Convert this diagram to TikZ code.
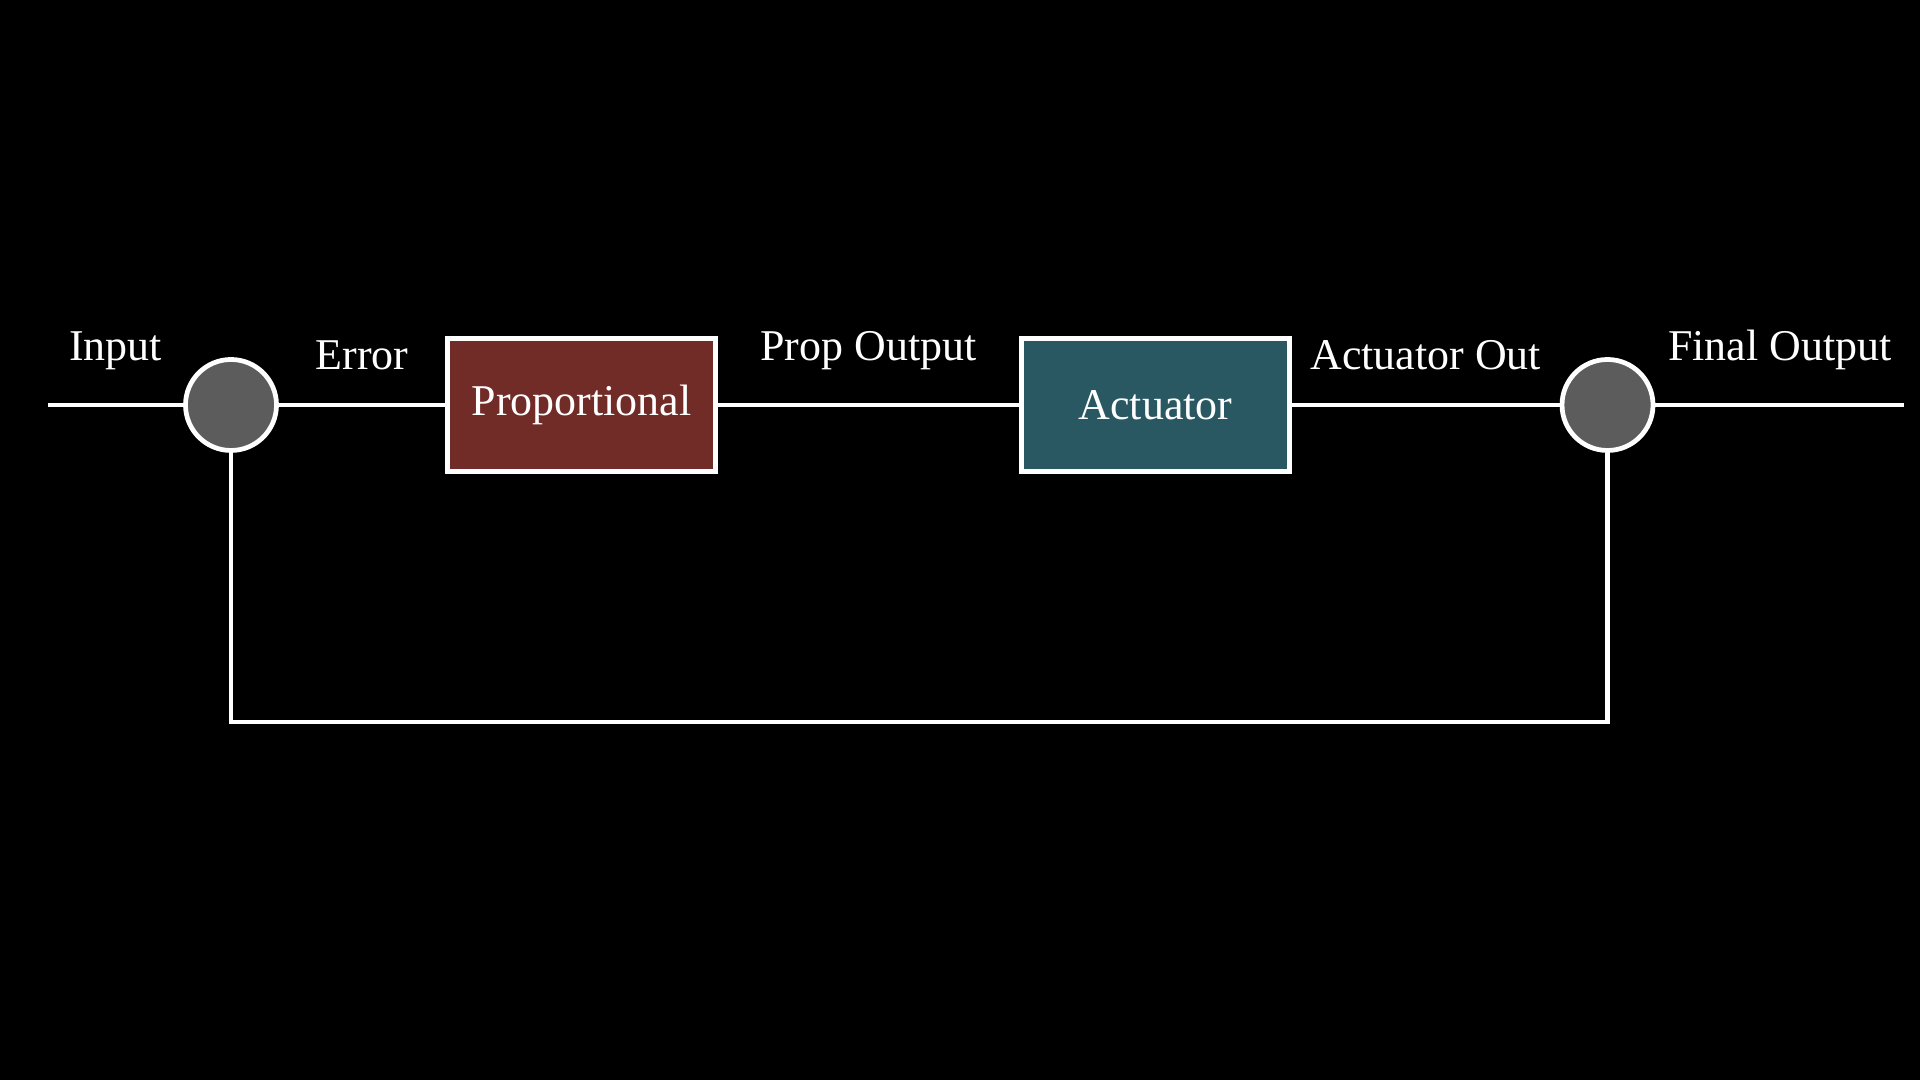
\documentclass[tikz,border=0pt]{standalone}
\usepackage{fontspec}
\setmainfont{Liberation Serif}
\definecolor{propred}{RGB}{114,44,40}
\definecolor{actteal}{RGB}{41,88,99}
\definecolor{sumgray}{RGB}{92,92,92}
\begin{document}
\begin{tikzpicture}[line width=1.35pt,white,font=\fontsize{12.5pt}{14pt}\selectfont,
 blk/.style={draw,minimum width=2.68cm,minimum height=1.33cm,inner sep=0pt},
 sum/.style={circle,draw,fill=sumgray,minimum size=0.91cm,inner sep=0pt},
 lbl/.style={midway,above=0.33cm,inner sep=0pt}]
 \fill[black] (0,0) rectangle (19.2,10.8); %背景
 \coordinate (in) at (0.48,6.75); %入力端
 \coordinate (out) at (19.04,6.75); %出力端
 \coordinate (fb) at (0,3.58); %フィードバックの高さ
 \node[sum] (s1) at (2.31,6.75) {}; %加算点1
 \node[blk,fill=propred] (prop) at (5.815,6.75) {Proportional}; %比例要素
 \node[blk,fill=actteal] (act) at (11.555,6.75) {Actuator}; %アクチュエータ
 \node[sum] (s2) at (16.075,6.75) {}; %加算点2
 \draw (in)--(s1)node[lbl]{Input};
 \draw (s1)--(prop)node[lbl]{Error};
 \draw (prop)--(act)node[lbl]{Prop Output};
 \draw (act)--(s2)node[lbl]{Actuator Out};
 \draw (s2)--(out)node[lbl]{Final Output};
 \draw (s2)--(s2|-fb)--(s1|-fb)--(s1); %フィードバック
\end{tikzpicture}
\end{document}
